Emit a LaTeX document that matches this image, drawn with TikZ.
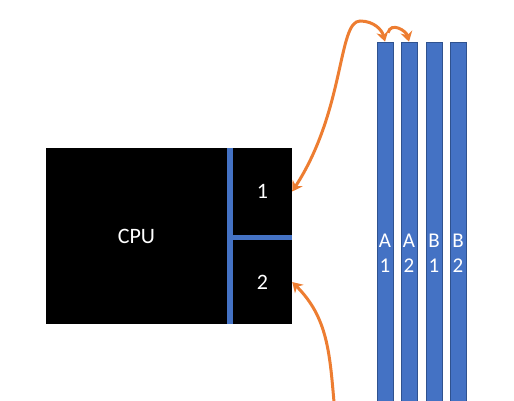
\documentclass[tikz,border=0pt]{standalone}
\usepackage{fontspec}
\setmainfont{Carlito}
\usepackage{tikz}
\usetikzlibrary{arrows.meta}
\definecolor{chipblue}{RGB}{68,114,196}
\definecolor{chipedge}{RGB}{47,82,143}
\definecolor{wireorange}{RGB}{237,125,49}

\begin{document}
\begin{tikzpicture}[x=1pt, y=1pt,
    slot/.style={shape=rectangle, fill=black, text=white, inner sep=0pt, minimum width=59pt, font=\fontsize{22}{26}\selectfont},
    dimm/.style={shape=rectangle, draw=chipedge, fill=chipblue, line width=0.6pt, inner sep=0pt, minimum width=16pt, minimum height=372pt},
    dimmlabel/.style={text=white, align=center, inner sep=0pt, font=\fontsize{21}{25}\selectfont},
    link/.style={draw=wireorange, line width=3pt, -{Stealth[length=10pt,width=12pt]}}]

            \useasboundingbox (0,0) rectangle (514,400);

            \node[shape=rectangle, fill=black, text=white, inner sep=0pt, minimum width=181pt, minimum height=176pt, font=\fontsize{22}{26}\selectfont] (cpu) at (136.5,164) {CPU};
            \node[slot, minimum height=87pt] (s1) at (262.5,208.5) {1};
            \node[slot, minimum height=84pt] (s2) at (262.5,118) {2};
            \fill[chipblue] (cpu.north east) rectangle (s2.south west);
            \fill[chipblue] (s2.north west) rectangle (s1.south east);

            \node[dimm] (a1) at (385,172) {};
            \node[dimm] (a2) at (409,172) {};
            \node[dimm] (b1) at (434,172) {};
            \node[dimm] (b2) at (458,172) {};

            \node[dimmlabel] (la1) at (385,147) {A\\1};
            \node[dimmlabel] (la2) at (409,147) {A\\2};
            \node[dimmlabel] (lb1) at (434,147) {B\\1};
            \node[dimmlabel] (lb2) at (458,147) {B\\2};

            \coordinate (feed) at (334,-2);

            \draw[link, {Stealth[length=10pt,width=12pt]}-{Stealth[length=10pt,width=12pt]}] (s1.east) .. controls (345,290) and (338,379) .. (360,379) .. controls (374,379) and (382,370) .. (a1.north);
            \draw[link] ([shift={(3,9)}]a1.north) to[out=75, in=105, looseness=1.3] (a2.north);
            \draw[link] (feed) to[out=95, in=-45] (s2.east);

        \end{tikzpicture}
\end{document}
